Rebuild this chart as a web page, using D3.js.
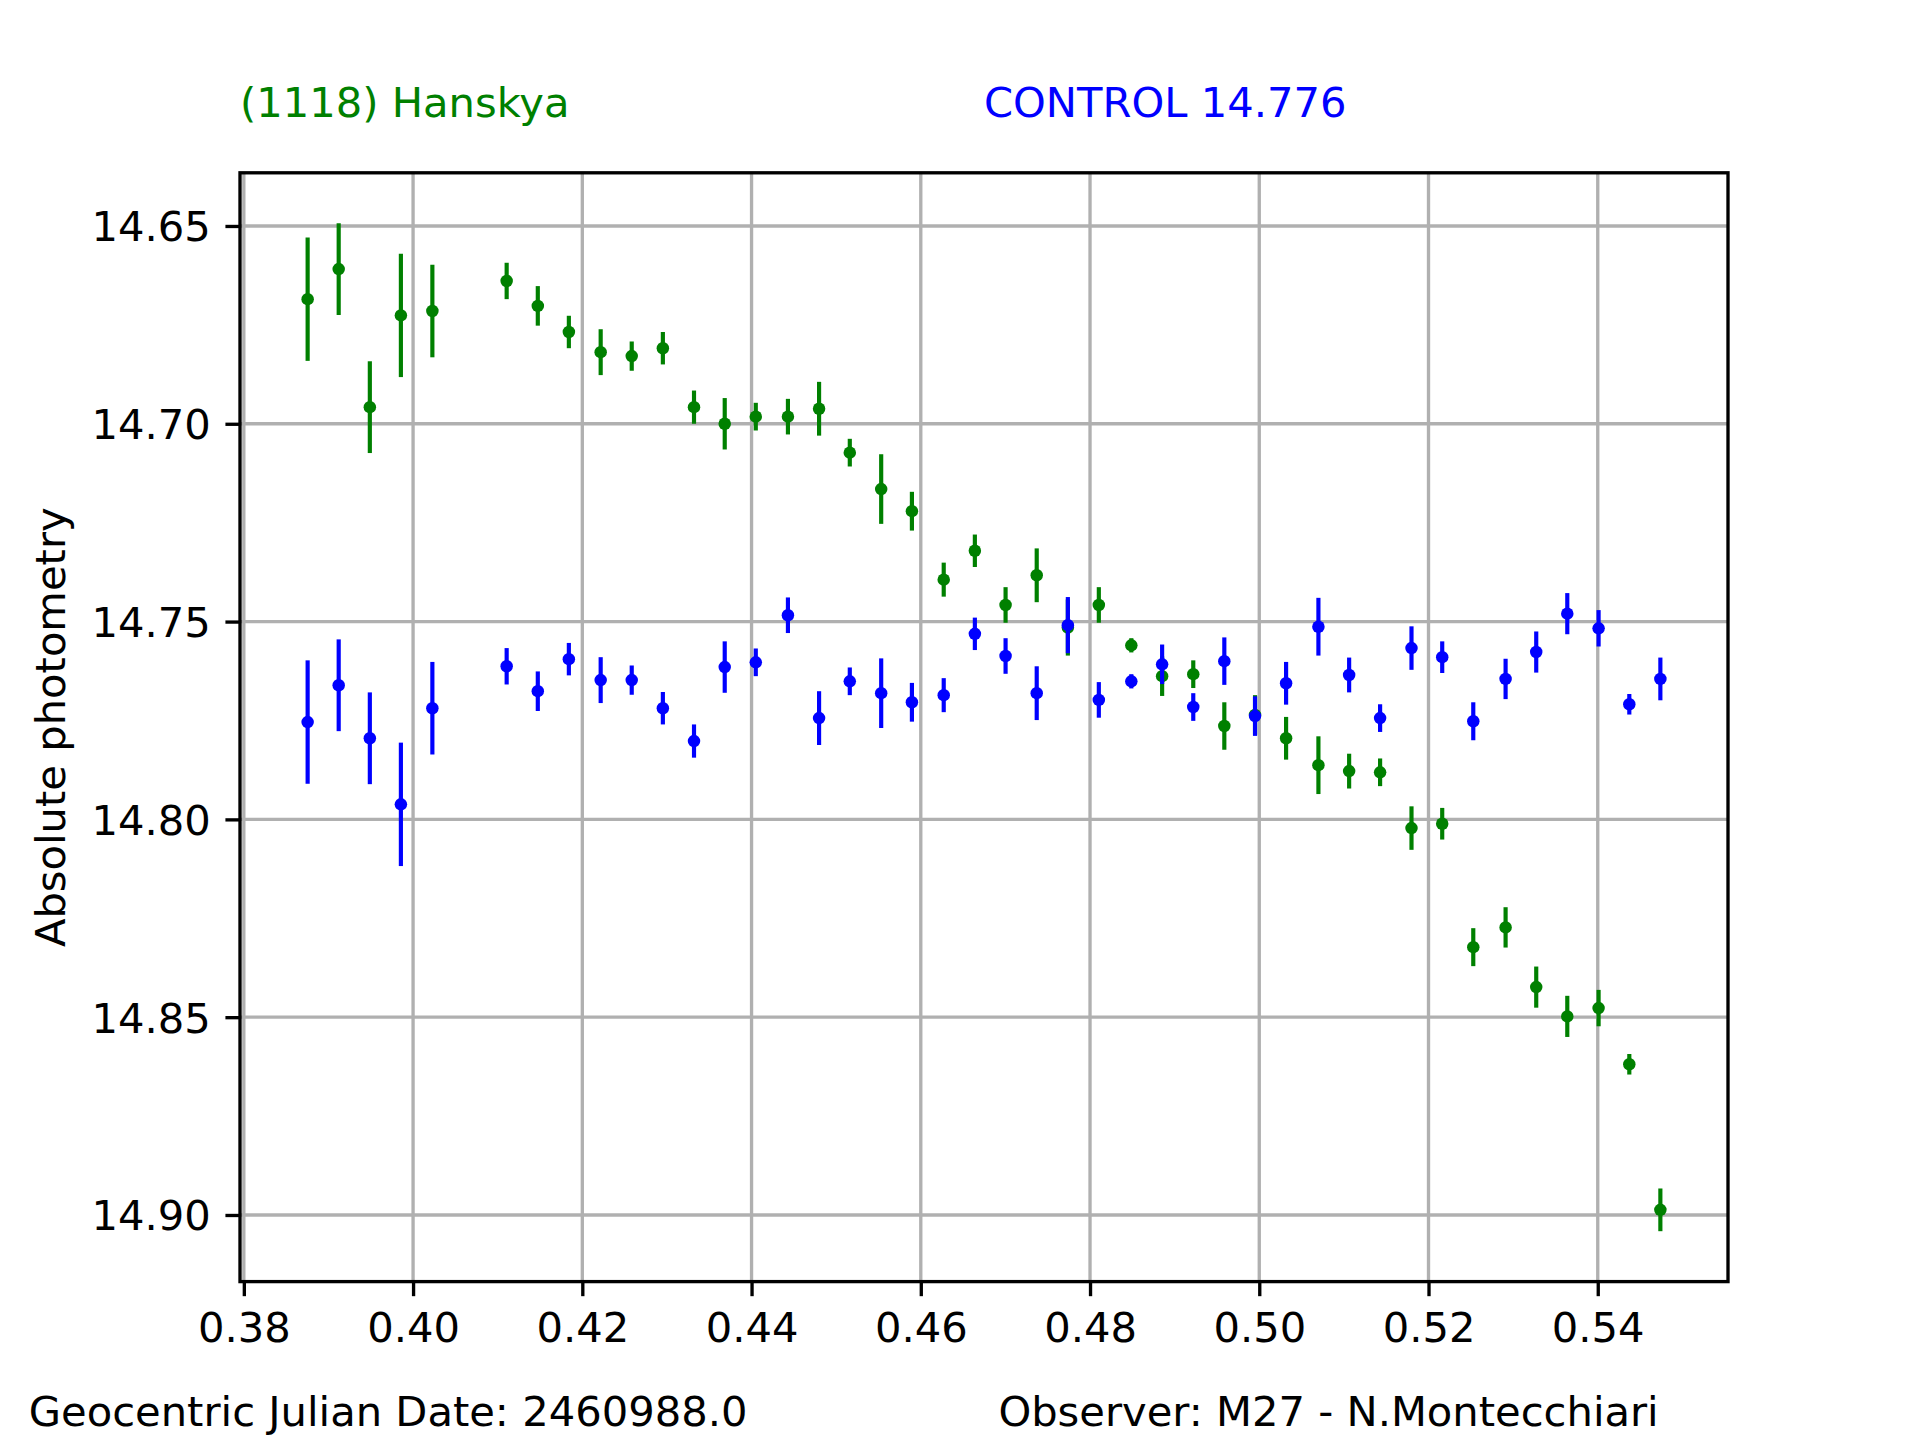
<!DOCTYPE html>
<html>
<head>
<meta charset="utf-8">
<script src="https://cdn.jsdelivr.net/npm/d3@7"></script>
<style>
  html, body { margin: 0; padding: 0; background: #ffffff; }
  svg { display: block; }
  text { font-family: "DejaVu Sans", sans-serif; }
</style>
</head>
<body>
<svg id="chart" width="1920" height="1440"></svg>
<script>
// ---- Data ----
const jd = [0.38754, 0.39121, 0.39489, 0.39856, 0.40228, 0.41106, 0.41474, 0.41841, 0.42217, 0.42584,
            0.42952, 0.43320, 0.43683, 0.44050, 0.44430, 0.44798, 0.45161, 0.45532, 0.45895, 0.46271,
            0.46639, 0.47002, 0.47370, 0.47738, 0.48104, 0.48488, 0.48852, 0.49220, 0.49587, 0.49950,
            0.50317, 0.50699, 0.51062, 0.51428, 0.51799, 0.52162, 0.52529, 0.52911, 0.53273, 0.53640,
            0.54010, 0.54373, 0.54740];

const asteroidMag = [14.6685, 14.6609, 14.6958, 14.6726, 14.6715, 14.6639, 14.6702, 14.6768, 14.6819, 14.6829,
                     14.6809, 14.6958, 14.7000, 14.6982, 14.6982, 14.6962, 14.7073, 14.7165, 14.7221, 14.7394,
                     14.7321, 14.7458, 14.7383, 14.7515, 14.7458, 14.7560, 14.7638, 14.7633, 14.7764, 14.7736,
                     14.7795, 14.7863, 14.7878, 14.7881, 14.8022, 14.8011, 14.8323, 14.8273, 14.8424, 14.8498,
                     14.8477, 14.8619, 14.8987];

const controlMag = [14.7754, 14.7661, 14.7795, 14.7962, 14.7719, 14.7613, 14.7676, 14.7595, 14.7648, 14.7648,
                    14.7719, 14.7802, 14.7615, 14.7603, 14.7484, 14.7744, 14.7651, 14.7681, 14.7704, 14.7686,
                    14.7531, 14.7587, 14.7681, 14.7509, 14.7698, 14.7651, 14.7608, 14.7716, 14.7600, 14.7739,
                    14.7656, 14.7513, 14.7635, 14.7744, 14.7567, 14.7590, 14.7752, 14.7645, 14.7577, 14.7480,
                    14.7517, 14.7709, 14.7645];

const magErr = [0.0156, 0.0116, 0.0116, 0.0156, 0.0117, 0.0046, 0.0050, 0.0041, 0.0058, 0.0037,
                0.0041, 0.0042, 0.0065, 0.0035, 0.0045, 0.0068, 0.0035, 0.0088, 0.0049, 0.0043,
                0.0041, 0.0045, 0.0068, 0.0071, 0.0045, 0.0018, 0.0050, 0.0035, 0.0060, 0.0050,
                0.0054, 0.0073, 0.0044, 0.0035, 0.0055, 0.0040, 0.0048, 0.0051, 0.0052, 0.0052,
                0.0046, 0.0026, 0.0054];

const xTicks = [0.38, 0.40, 0.42, 0.44, 0.46, 0.48, 0.50, 0.52, 0.54];
const yTicks = [14.65, 14.70, 14.75, 14.80, 14.85, 14.90];

const asteroidName = "(1118) Hanskya";
const controlLabel = "CONTROL 14.776";
const yLabel = "Absolute photometry";
const dateLabel = "Geocentric Julian Date: 2460988.0";
const observerLabel = "Observer: M27 - N.Montecchiari";

(function () {
// ---- Layout (matplotlib default 6.4x4.8in @ 300dpi) ----
const W = 1920, H = 1440;
const axL = 240, axR = 1728, axT = 172.8, axB = 1281.6;
const PT = 300 / 72;               // px per point
const fontPx = 10 * PT;            // 10pt
const green = "#008000", blue = "#0000ff";

// domains with 5% margins like matplotlib autoscale
const xmin = d3.min(jd), xmax = d3.max(jd);
const xr = xmax - xmin;
const allLo = [], allHi = [];
[asteroidMag, controlMag].forEach(arr => arr.forEach((v, i) => { allLo.push(v - magErr[i]); allHi.push(v + magErr[i]); }));
const ymin = d3.min(allLo), ymax = d3.max(allHi);
const yr = ymax - ymin;

const x = d3.scaleLinear().domain([xmin - 0.05 * xr, xmax + 0.05 * xr]).range([axL, axR]);
const y = d3.scaleLinear().domain([ymin - 0.05 * yr, ymax + 0.05 * yr]).range([axT, axB]); // inverted magnitude axis

const svg = d3.select("#chart");
svg.append("rect").attr("width", W).attr("height", H).attr("fill", "#ffffff");

// grid
const grid = svg.append("g");
grid.selectAll("line.gx").data(xTicks).enter().append("line")
  .attr("x1", d => x(d)).attr("x2", d => x(d)).attr("y1", axT).attr("y2", axB)
  .attr("stroke", "#b0b0b0").attr("stroke-width", 0.8 * PT);
grid.selectAll("line.gy").data(yTicks).enter().append("line")
  .attr("y1", d => y(d)).attr("y2", d => y(d)).attr("x1", axL).attr("x2", axR)
  .attr("stroke", "#b0b0b0").attr("stroke-width", 0.8 * PT);

// clip to axes
svg.append("clipPath").attr("id", "clip").append("rect")
  .attr("x", axL).attr("y", axT).attr("width", axR - axL).attr("height", axB - axT);

function drawSeries(vals, color) {
  const g = svg.append("g").attr("clip-path", "url(#clip)");
  const pts = jd.map((t, i) => ({ t, v: vals[i], e: magErr[i] }));
  g.selectAll("line").data(pts).enter().append("line")
    .attr("x1", d => x(d.t)).attr("x2", d => x(d.t))
    .attr("y1", d => y(d.v - d.e)).attr("y2", d => y(d.v + d.e))
    .attr("stroke", color).attr("stroke-width", 1.0 * PT);
  g.selectAll("circle").data(pts).enter().append("circle")
    .attr("cx", d => x(d.t)).attr("cy", d => y(d.v))
    .attr("r", 1.5 * PT).attr("fill", color);
}
drawSeries(asteroidMag, green);
drawSeries(controlMag, blue);

// axes with ticks
const xAxis = d3.axisBottom(x).tickValues(xTicks).tickFormat(d3.format(".2f"))
  .tickSizeInner(3.5 * PT).tickSizeOuter(0).tickPadding(3.5 * PT);
const yAxis = d3.axisLeft(y).tickValues(yTicks).tickFormat(d3.format(".2f"))
  .tickSizeInner(3.5 * PT).tickSizeOuter(0).tickPadding(3.5 * PT);

const gx = svg.append("g").attr("transform", `translate(0,${axB})`).call(xAxis);
const gy = svg.append("g").attr("transform", `translate(${axL},0)`).call(yAxis);
[gx, gy].forEach(g => {
  g.select(".domain").remove();
  g.selectAll(".tick line").attr("stroke", "#000").attr("stroke-width", 0.8 * PT);
  g.selectAll(".tick text").attr("fill", "#000").attr("font-size", fontPx)
    .attr("font-family", "DejaVu Sans");
});
gx.selectAll(".tick text").attr("dy", null).attr("y", 60.5);
gy.selectAll(".tick text").attr("dy", "0.36em");

// spines
svg.append("rect").attr("x", axL).attr("y", axT).attr("width", axR - axL).attr("height", axB - axT)
  .attr("fill", "none").attr("stroke", "#000").attr("stroke-width", 0.8 * PT);

// y label
svg.append("text")
  .attr("transform", `translate(65,${(axT + axB) / 2}) rotate(-90)`)
  .attr("text-anchor", "middle").attr("font-size", fontPx).attr("fill", "#000")
  .text(yLabel);

// header labels
svg.append("text").attr("x", axL).attr("y", 117).attr("font-size", fontPx)
  .attr("fill", green).text(asteroidName);
svg.append("text").attr("x", axL + 0.5 * (axR - axL)).attr("y", 117).attr("font-size", fontPx)
  .attr("fill", blue).text(controlLabel);

// footer labels
svg.append("text").attr("x", 0.015 * W).attr("y", 1425.6).attr("font-size", fontPx)
  .attr("fill", "#000").text(dateLabel);
svg.append("text").attr("x", 0.52 * W).attr("y", 1425.6).attr("font-size", fontPx)
  .attr("fill", "#000").text(observerLabel);
})();
</script>
</body>
</html>
